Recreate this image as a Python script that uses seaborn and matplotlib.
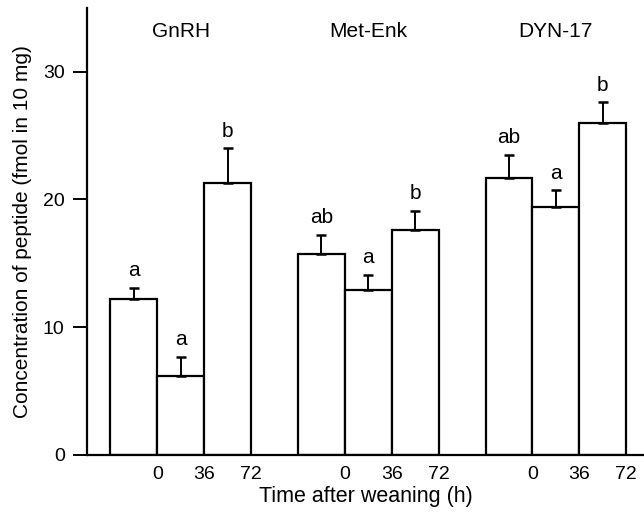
import numpy as np
import pandas as pd
import matplotlib
matplotlib.use("Agg")
import matplotlib.pyplot as plt
import seaborn as sns

# Data
peptides = ["GnRH", "Met-Enk", "DYN-17"]
times = ["0", "36", "72"]
gnrh_mean = [12.2, 6.2, 21.3]
gnrh_sem = [0.9, 1.5, 2.7]
metenk_mean = [15.7, 12.9, 17.6]
metenk_sem = [1.5, 1.2, 1.5]
dyn_mean = [21.7, 19.4, 26.0]
dyn_sem = [1.8, 1.3, 1.6]
gnrh_letters = ["a", "a", "b"]
metenk_letters = ["ab", "a", "b"]
dyn_letters = ["ab", "a", "b"]

df = pd.DataFrame({
    "Peptide": np.repeat(peptides, len(times)),
    "Time": times * len(peptides),
    "Mean": gnrh_mean + metenk_mean + dyn_mean,
    "SEM": gnrh_sem + metenk_sem + dyn_sem,
    "Letter": gnrh_letters + metenk_letters + dyn_letters,
})

sns.set_style("ticks", {"axes.edgecolor": "black", "text.color": "black",
                        "xtick.color": "black", "ytick.color": "black",
                        "axes.labelcolor": "black"})
plt.rcParams["font.family"] = ["Liberation Sans", "DejaVu Sans"]

fig = plt.figure(figsize=(6.44, 5.14), dpi=100)
ax = fig.add_axes([0.135, 0.115, 0.865, 0.87])

sns.barplot(data=df, x="Peptide", y="Mean", hue="Time", order=peptides, hue_order=times,
            palette=["white"] * 3, edgecolor="black", linewidth=1.6, width=0.75,
            errorbar=None, legend=False, ax=ax)

# bars come out grouped by hue; re-sort them by x position to match the dataframe order
bars = sorted(ax.patches, key=lambda p: p.get_x())
centers = np.array([b.get_x() + b.get_width() / 2 for b in bars])
rights = np.array([b.get_x() + b.get_width() for b in bars])

# upper-only error bars
ax.errorbar(centers, df["Mean"], yerr=[np.zeros(len(df)), df["SEM"]], fmt="none",
            ecolor="black", elinewidth=1.4, capsize=3.5, capthick=1.8, zorder=3)

# significance letters
for x, top, letter in zip(centers, df["Mean"] + df["SEM"], df["Letter"]):
    ax.text(x, top + 0.6, letter, ha="center", va="bottom", fontsize=15)

# group titles
for i, name in enumerate(peptides):
    ax.text(i, 33.1, name, ha="center", va="center", fontsize=15)

ax.set_xticks(rights)
ax.set_xticklabels(df["Time"])
ax.tick_params(axis="x", length=0, pad=8, labelsize=14)
ax.tick_params(axis="y", length=10, width=1.4, pad=6, labelsize=14)

ax.set_ylim(0, 35)
ax.set_yticks([0, 10, 20, 30])
ax.set_xlim(-0.5, 2.47)

ax.set_xlabel("Time after weaning (h)", fontsize=15.5, labelpad=2)
ax.set_ylabel("Concentration of peptide (fmol in 10 mg)", fontsize=15, labelpad=8)

sns.despine(ax=ax)
for s in ["left", "bottom"]:
    ax.spines[s].set_linewidth(1.6)

plt.savefig("out.png", dpi=100)
